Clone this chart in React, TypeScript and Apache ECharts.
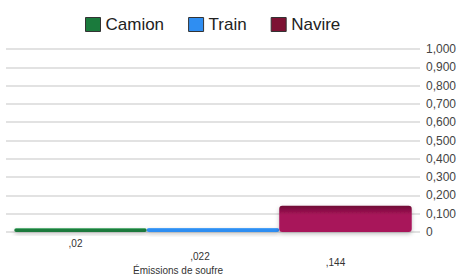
import React, { useEffect, useRef } from "react";
import * as echarts from "echarts";

const categories = ["Émissions de soufre"];
const seriesNames = ["Camion", "Train", "Navire"];
const camion = [0.02];
const train = [0.022];
const navire = [0.144];
const yMin = 0;
const yMax = 1;
const yStep = 0.1;

const fmtTick = (v: number) => (v === 0 ? "0" : v.toFixed(3).replace(".", ","));
const fmtVal = (v: number) => String(v).replace(/^0\./, ",");

export default function App() {
  const ref = useRef<HTMLDivElement>(null);
  useEffect(() => {
    if (!ref.current) return;
    const chart = echarts.init(ref.current, undefined, { renderer: "svg" });
    const font = "Liberation Sans, Arial, Helvetica, sans-serif";
    const mk = (
      name: string,
      data: number[],
      color: string,
      top: string,
      off: [number, number]
    ) => ({
      name,
      type: "bar",
      data,
      barGap: "0%",
      barCategoryGap: "4%",
      itemStyle: {
        color: new echarts.graphic.LinearGradient(0, 0, 0, 1, [
          { offset: 0, color: top },
          { offset: 0.35, color },
          { offset: 1, color },
        ]),
        borderRadius: 3,
        shadowColor: "rgba(0,0,0,0.25)",
        shadowBlur: 4,
        shadowOffsetY: 2,
      },
      label: {
        show: true,
        position: "bottom",
        distance: 4,
        offset: off,
        formatter: (p: any) => fmtVal(p.value),
        color: "#333",
        fontSize: 10,
        fontFamily: font,
      },
    });
    chart.setOption({
      animation: false,
      backgroundColor: "#fff",
      legend: {
        top: 11,
        left: 80,
        itemWidth: 15,
        itemHeight: 14,
        itemGap: 24,
        icon: "rect",
        textStyle: { fontSize: 17, color: "#222", fontFamily: font },
        data: seriesNames.map((n, i) => ({
          name: n,
          itemStyle: {
            color: ["#1a7a3c", "#2f8ef2", "#7d1233"][i],
            borderColor: "#333",
            borderWidth: 1,
          },
        })),
      },
      grid: { left: 6, right: 42, top: 49, bottom: 43, outerBoundsMode: "none", containLabel: false },
      xAxis: {
        type: "category",
        data: categories,
        axisLine: { show: false },
        axisTick: { show: false },
        axisLabel: { show: false },
        name: categories[0],
        nameLocation: "middle",
        nameGap: 33,
        nameTextStyle: { fontSize: 10, color: "#333", fontFamily: font, padding: [0, 70, 0, 0] },
      },
      yAxis: {
        type: "value",
        position: "right",
        min: yMin,
        max: yMax,
        interval: yStep,
        axisLine: { show: false },
        axisTick: { show: false },
        axisLabel: {
          formatter: fmtTick,
          fontSize: 12,
          color: "#444",
          margin: 6,
          fontFamily: font,
        },
        splitLine: { lineStyle: { color: "#d8d8d8", width: 1.5 } },
      },
      series: [
        mk(seriesNames[0], camion, "#1a7a3c", "#2a9a50", [-5, 2]),
        mk(seriesNames[1], train, "#2f8ef2", "#5aaaf8", [-13, 15]),
        mk(seriesNames[2], navire, "#a8145a", "#6e0c34", [-10, 21]),
      ],
    });
    return () => chart.dispose();
  }, []);
  return (
    <div
      ref={ref}
      style={{ position: "absolute", left: 0, top: 0, width: 462, height: 275 }}
    />
  );
}
